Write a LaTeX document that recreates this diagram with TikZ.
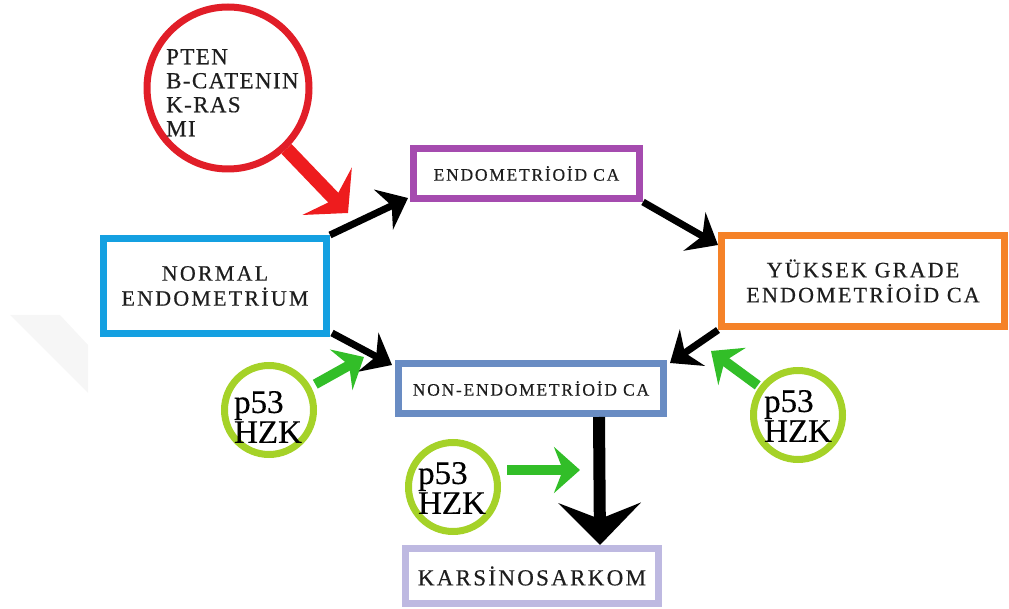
\documentclass[tikz,border=0pt]{standalone}
\usepackage{fontspec}
\setmainfont{Liberation Serif}[FakeBold=0.4]
\newfontfamily\lsp{Liberation Serif}[LetterSpace=10,FakeBold=0.4]
\newfontfamily\lspb{Liberation Serif}[LetterSpace=6,FakeBold=0.4]
\usetikzlibrary{arrows.meta,calc}
\definecolor{cRed}{RGB}{225,30,40}
\definecolor{cRedA}{RGB}{238,28,30}
\definecolor{cPurple}{RGB}{165,75,175}
\definecolor{cCyan}{RGB}{20,160,225}
\definecolor{cOrange}{RGB}{245,130,40}
\definecolor{cSteel}{RGB}{105,140,195}
\definecolor{cLav}{RGB}{190,185,225}
\definecolor{cLime}{RGB}{165,210,40}
\definecolor{cGreen}{RGB}{50,190,40}
\definecolor{cText}{RGB}{30,30,30}
\begin{document}
\begin{tikzpicture}[x=1pt,y=-1pt,
  box/.style={draw=#1, line width=7pt, fill=white, inner sep=0pt, align=center, text=cText},
  bigtxt/.style={font=\lsp\fontsize{22}{25}\selectfont},
  smalltxt/.style={font=\lsp\fontsize{17.5}{20}\selectfont},
  ring/.style={draw=#1, circle, line width=7pt, inner sep=0pt, fill=white},
  gtxt/.style={font=\fontsize{33}{30}\selectfont, text=black, align=left, inner sep=0pt},
  blk/.style={line width=7pt, black, -{Stealth[length=27pt, width=44pt, inset=9pt]}},
  bigblk/.style={line width=12pt, black, -{Stealth[length=42pt, width=82pt, inset=16pt]}},
  redarr/.style={line width=14pt, cRedA, -{Stealth[length=30pt, width=68pt, inset=11pt]}},
  grn/.style={line width=10pt, cGreen, -{Stealth[length=26pt, width=46pt, inset=9pt]}}
]
\useasboundingbox (0,0) rectangle (1009,609);
\fill[gray!7] (10,315) -- (60,315) -- (88,345) -- (88,393) -- cycle;

% boxes
\node[box=cPurple, smalltxt, minimum width=226pt, minimum height=50pt] (endo) at (526.5,173.5) {ENDOMETR\.IO\.ID CA};
\node[box=cCyan, bigtxt, minimum width=223pt, minimum height=95pt] (norm) at (215,286) {NORMAL\\ENDOMETR\.IUM};
\node[box=cOrange, bigtxt, minimum width=283pt, minimum height=91pt] (yuk) at (863,281) {YÜKSEK GRADE\\ENDOMETR\.IO\.ID CA};
\node[box=cSteel, smalltxt, minimum width=265pt, minimum height=50pt] (nonendo) at (531,388.5) {NON-ENDOMETR\.IO\.ID CA};
\node[box=cLav, font=\lsp\fontsize{23}{25}\selectfont, minimum width=253pt, minimum height=55pt] (karsi) at (532,576) {KARS\.INOSARKOM};

% circles
\node[ring=cRed, minimum size=162pt] (red) at (228,88) {};
\node[anchor=north west, align=left, inner sep=0pt, text=cText, font=\lspb\fontsize{23}{24}\selectfont] (redtxt) at (166,49) {PTEN\\B-CATENIN\\K-RAS\\MI};
\node[ring=cLime, minimum size=89pt] (gl) at (269,410) {};
\node[gtxt] (gltxt) at (268,417) {p53\\HZK};
\node[ring=cLime, minimum size=89pt] (gr) at (798,415) {};
\node[gtxt] (grtxt) at (798,416) {p53\\HZK};
\node[ring=cLime, minimum size=89pt] (gb) at (453,487) {};
\node[gtxt] (gbtxt) at (452,488) {p53\\HZK};

% free ends
\coordinate (redtip) at (348,213);
\coordinate (gltip) at (364,357);
\coordinate (grtip) at (711,351);
\coordinate (gbtip) at (580,470);

% black arrows
\draw[blk] (norm.north east) -- ($(endo.south west)+(-2,-4)$);
\draw[blk] (endo.south east) -- ($(yuk.north west)+(0,13)$);
\draw[blk] ($(norm.south east)+(2,-4)$) -- ($(nonendo.north west)+(-3,5)$);
\draw[blk] (yuk.south west) -- ($(nonendo.north east)+(3,3)$);
\draw[bigblk] ($(nonendo.south)+(68,0)$) -- ($(karsi.north)+(68,0)$);

% coloured arrows
\draw[redarr] (red) -- (redtip);
\draw[grn, shorten <=5pt] (gl) -- (gltip);
\draw[grn, shorten <=2pt] (gr) -- (grtip);
\draw[grn, shorten <=6pt] (gbtip -| gb.east) -- (gbtip);
\end{tikzpicture}
\end{document}
